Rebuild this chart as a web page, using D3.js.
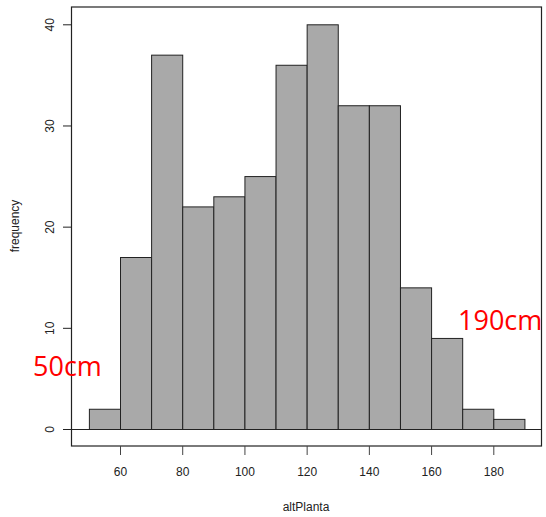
<!DOCTYPE html>
<html><head><meta charset="utf-8">
<script src="https://cdn.jsdelivr.net/npm/d3@7"></script>
<style>body{margin:0;background:#fff}svg{display:block;font-family:Arial,"Liberation Sans",sans-serif}</style>
</head><body><div id="chart"></div>
<script>
const binStarts = [50,60,70,80,90,100,110,120,130,140,150,160,170,180];
const binWidth = 10;
const counts = [2,17,37,22,23,25,36,40,32,32,14,9,2,1];
const xTicks = [60,80,100,120,140,160,180];
const yTicks = [0,10,20,30,40];
const xLabel = "altPlanta";
const yLabel = "frequency";
const notes = [{text:"50cm", value:50, y:6.0}, {text:"190cm", value:190, y:10.6}];

const W=546,H=517;
const box={l:71.5,r:541.5,t:7,b:446};
const x=d3.scaleLinear().domain([60,180]).range([120,493.3]);
const y=d3.scaleLinear().domain([0,40]).range([429,24.3]);

const svg=d3.select("#chart").append("svg").attr("width",W).attr("height",H);

svg.append("g").selectAll("rect").data(counts).join("rect")
  .attr("x",(d,i)=>x(binStarts[i])+0.5)
  .attr("y",d=>y(d)+0.5)
  .attr("width",(d,i)=>x(binStarts[i]+binWidth)-x(binStarts[i]))
  .attr("height",d=>y(0)-y(d))
  .attr("fill","#a9a9a9").attr("stroke","#222").attr("stroke-width",1);

// zero line
svg.append("line").attr("x1",box.l).attr("x2",box.r).attr("y1",y(0)+0.5).attr("y2",y(0)+0.5)
  .attr("stroke","#222").attr("stroke-width",1);

// box
svg.append("rect").attr("x",box.l).attr("y",box.t).attr("width",box.r-box.l).attr("height",box.b-box.t)
  .attr("fill","none").attr("stroke","#222").attr("stroke-width",1.2);

// y axis
const ya=svg.append("g").attr("transform",`translate(${box.l},0)`)
  .call(d3.axisLeft(y).tickValues(yTicks).tickSize(8.5).tickSizeOuter(0).tickFormat(d3.format("d")));
ya.select(".domain").remove();
ya.selectAll("line").attr("stroke","#222");
ya.selectAll("text").attr("transform","rotate(-90)")
  .attr("x",0).attr("y",-18).attr("dy",0).attr("dx",0)
  .style("text-anchor","middle").attr("font-size",12).attr("fill","#222");

// x axis
const xa=svg.append("g").attr("transform",`translate(0,${box.b})`)
  .call(d3.axisBottom(x).tickValues(xTicks).tickSize(9).tickSizeOuter(0).tickFormat(d3.format("d")));
xa.select(".domain").remove();
xa.selectAll("line").attr("stroke","#444");
xa.selectAll("text").attr("y",21).attr("font-size",12).attr("fill","#222");

svg.append("text").attr("x",306).attr("y",511).attr("text-anchor","middle")
  .attr("font-size",12).attr("fill","#222").text(xLabel);
svg.append("text").attr("transform",`translate(19,226) rotate(-90)`).attr("text-anchor","middle")
  .attr("font-size",12).attr("fill","#222").text(yLabel);

svg.selectAll(".note").data(notes).join("text").attr("class","note")
  .attr("x",d=>d.value===50?33:458)
  .attr("y",d=>y(d.y)+8)
  .attr("font-size",27).attr("fill","red")
  .attr("font-family","'Open Sans','Noto Sans',sans-serif")
  .text(d=>d.text);
</script></body></html>
